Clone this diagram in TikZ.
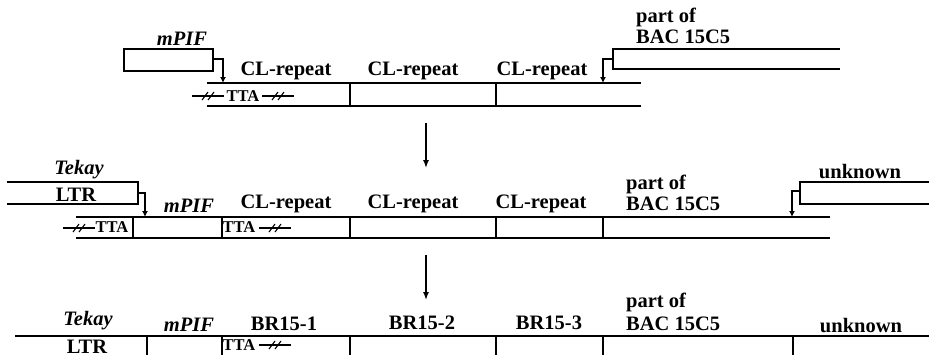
\documentclass[tikz,border=0pt]{standalone}
\usepackage{fontspec}
\setmainfont{Liberation Serif}
\usetikzlibrary{arrows.meta}
\begin{document}
\begin{tikzpicture}[x=1pt,y=-1pt,
  dna/.style={line width=1.8pt},
  box/.style={line width=1.8pt},
  sep/.style={line width=1.8pt},
  ptr/.style={line width=1.4pt,-{Latex[length=6pt,width=6pt]}},
  bigptr/.style={line width=1.4pt,-{Latex[length=8pt,width=6pt]}},
  lbl/.style={font=\fontsize{20.5}{22}\selectfont\bfseries,inner sep=0pt,anchor=base},
  ilbl/.style={lbl,font=\fontsize{20.5}{22}\selectfont\bfseries\itshape},
  llbl/.style={lbl,anchor=base west},
  tta/.style={font=\fontsize{16.5}{18}\selectfont\bfseries,inner sep=0pt,anchor=base},
  brk/.pic={
    \draw[line width=1.1pt] (-16,0) -- (16,0);
    \draw[line width=1.1pt] (-6,4) -- (0,-4);
    \draw[line width=1.1pt] (0,4) -- (6,-4);
  }
]
\path[use as bounding box] (0,0) rectangle (929,354);
\clip (0,0) rectangle (929,354);

% ================= Row 1 =================
\coordinate (r1L) at (207,83);  \coordinate (r1R) at (641,83);
\coordinate (r1Lb) at (207,106); \coordinate (r1Rb) at (641,106);
\draw[dna] (r1L) -- (r1R);
\draw[dna] (r1Lb) -- (r1Rb);
\foreach \x/\n in {350/a,496/b}{
  \coordinate (r1s\n t) at (\x,83); \coordinate (r1s\n b) at (\x,106);
  \draw[sep] (r1s\n t) -- (r1s\n b);
}
% mPIF box
\coordinate (m1a) at (124,49); \coordinate (m1b) at (213,71);
\draw[box] (m1a) rectangle (m1b);
\coordinate (m1out) at (213,59); \coordinate (m1in) at (223,83);
\draw[ptr] (m1out) -| (m1in);
\node[ilbl] (m1lab) at (182,45) {mPIF};
% BAC box
\coordinate (b1tr) at (840,49); \coordinate (b1tl) at (613,49);
\coordinate (b1bl) at (613,69); \coordinate (b1br) at (840,69);
\draw[box] (b1tr) -- (b1tl) -- (b1bl) -- (b1br);
\coordinate (b1out) at (613,59); \coordinate (b1in) at (603,83);
\draw[ptr] (b1out) -| (b1in);
\node[llbl] (p1a) at (636,22) {part of};
\node[llbl] (p1b) at (636,43) {BAC 15C5};
% CL labels
\node[lbl] (c11) at (286,75) {CL-repeat};
\node[lbl] (c12) at (413,75) {CL-repeat};
\node[lbl] (c13) at (542,75) {CL-repeat};
% TTA
\node[tta] (t1) at (243,101) {TTA};
\pic at (208,96) {brk};
\pic at (278,96) {brk};

% arrow 1
\coordinate (a1s) at (426,123); \coordinate (a1e) at (426,168);
\draw[bigptr] (a1s) -- (a1e);

% ================= Row 2 =================
\coordinate (r2L) at (76,217);  \coordinate (r2R) at (830,217);
\coordinate (r2Lb) at (76,238); \coordinate (r2Rb) at (830,238);
\draw[dna] (r2L) -- (r2R);
\draw[dna] (r2Lb) -- (r2Rb);
\foreach \x/\n in {133/a,222/b,350/c,496/d,603/e}{
  \coordinate (r2s\n t) at (\x,217); \coordinate (r2s\n b) at (\x,238);
  \draw[sep] (r2s\n t) -- (r2s\n b);
}
% LTR box
\coordinate (l2tl) at (7,182); \coordinate (l2tr) at (138,182);
\coordinate (l2br) at (138,204); \coordinate (l2bl) at (7,204);
\draw[box] (l2tl) -- (l2tr) -- (l2br) -- (l2bl);
\coordinate (l2out) at (138,193); \coordinate (l2in) at (145,217);
\draw[ptr] (l2out) -| (l2in);
\node[ilbl] (tk2) at (79,174) {Tekay};
\node[lbl] (ltr2) at (76,201) {LTR};
% unknown box
\coordinate (u2tr) at (929,182); \coordinate (u2tl) at (800,182);
\coordinate (u2bl) at (800,204); \coordinate (u2br) at (929,204);
\draw[box] (u2tr) -- (u2tl) -- (u2bl) -- (u2br);
\coordinate (u2out) at (800,191); \coordinate (u2in) at (792,217);
\draw[ptr] (u2out) -| (u2in);
\node[lbl] (un2) at (860,178) {unknown};
% labels
\node[ilbl] (m2lab) at (189,212) {mPIF};
\node[lbl] (c21) at (286,208) {CL-repeat};
\node[lbl] (c22) at (413,208) {CL-repeat};
\node[lbl] (c23) at (541,208) {CL-repeat};
\node[llbl] (p2a) at (626,189) {part of};
\node[llbl] (p2b) at (626,210) {BAC 15C5};
% TTA
\pic at (79,228) {brk};
\node[tta] (t2a) at (112,232) {TTA};
\node[tta] (t2b) at (239,232) {TTA};
\pic at (275,228) {brk};

% arrow 2
\coordinate (a2s) at (426,255); \coordinate (a2e) at (426,300);
\draw[bigptr] (a2s) -- (a2e);

% ================= Row 3 =================
\coordinate (r3L) at (15,336); \coordinate (r3R) at (929,336);
\draw[dna] (r3L) -- (r3R);
\foreach \x/\n in {147/a,222/b,350/c,496/d,603/e,793/f}{
  \coordinate (r3s\n t) at (\x,336); \coordinate (r3s\n b) at (\x,360);
  \draw[sep] (r3s\n t) -- (r3s\n b);
}
\node[ilbl] (tk3) at (88,325) {Tekay};
\node[lbl] (ltr3) at (87,353) {LTR};
\node[ilbl] (m3lab) at (189,331) {mPIF};
\node[lbl] (br1) at (284,330) {BR15-1};
\node[lbl] (br2) at (422,329) {BR15-2};
\node[lbl] (br3) at (549,329) {BR15-3};
\node[llbl] (p3a) at (626,307) {part of};
\node[llbl] (p3b) at (626,330) {BAC 15C5};
\node[lbl] (un3) at (861,332) {unknown};
\node[tta] (t3) at (239,350) {TTA};
\pic at (275,345) {brk};
\end{tikzpicture}
\end{document}
